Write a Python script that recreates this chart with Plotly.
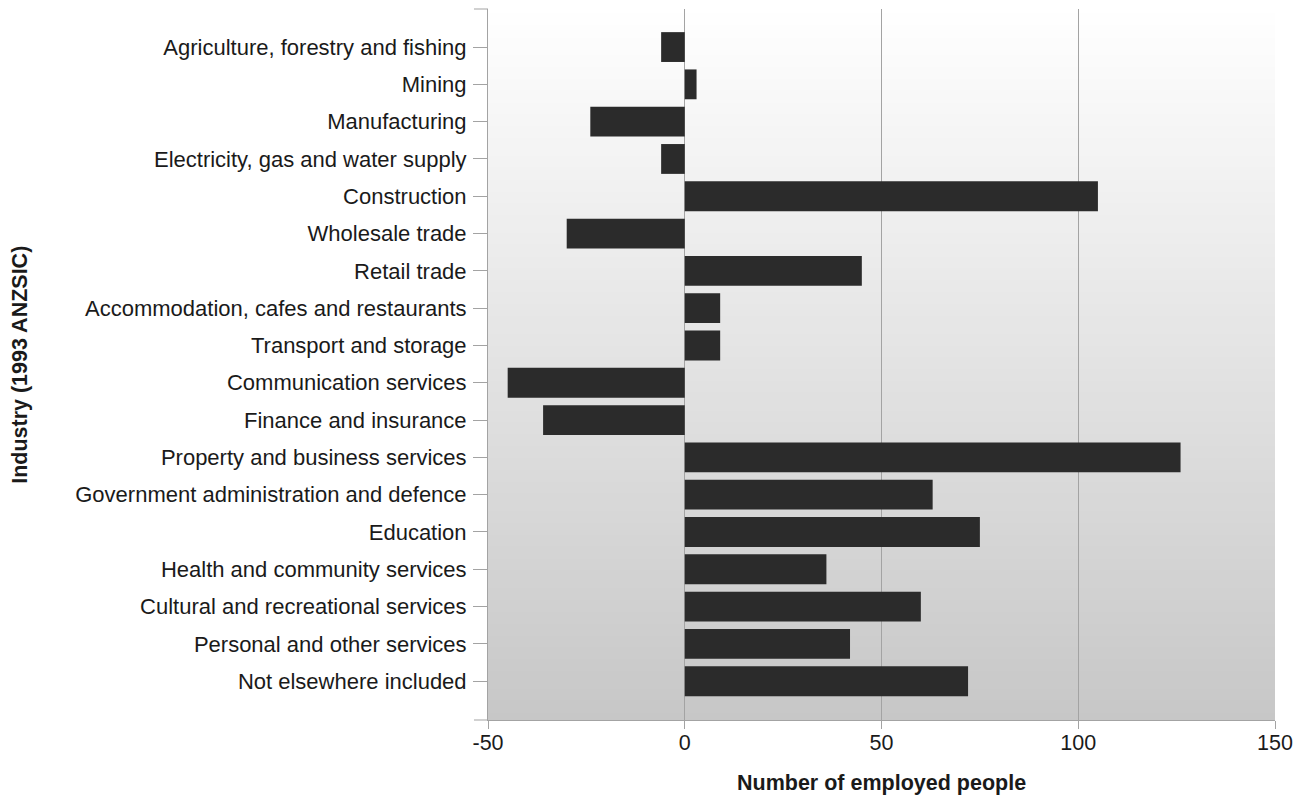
import plotly.graph_objects as go

industries = [
    "Agriculture, forestry and fishing",
    "Mining",
    "Manufacturing",
    "Electricity, gas and water supply",
    "Construction",
    "Wholesale trade",
    "Retail trade",
    "Accommodation, cafes and restaurants",
    "Transport and storage",
    "Communication services",
    "Finance and insurance",
    "Property and business services",
    "Government administration and defence",
    "Education",
    "Health and community services",
    "Cultural and recreational services",
    "Personal and other services",
    "Not elsewhere included",
]
employed_change = [-6, 3, -24, -6, 105, -30, 45, 9, 9, -45, -36, 126, 63, 75, 36, 60, 42, 72]

x_tick_values = [-50, 0, 50, 100, 150]
x_tick_labels = ["-50", "0", "50", "100", "150"]

FONT = "Liberation Sans, Arial, sans-serif"
GRID = "#a3a3a3"
TXT = "#1a1a1a"

fig = go.Figure()
fig.add_trace(go.Bar(
    y=industries,
    x=employed_change,
    orientation="h",
    marker=dict(color="#2b2b2b", line=dict(width=0)),
    showlegend=False,
))

# vertical gradient background (white -> light grey)
shapes = []
n = 120
for i in range(n):
    f = (i + 0.5) / n  # from top
    v = round(255 - (255 - 199) * f)
    shapes.append(dict(
        type="rect", xref="paper", yref="paper",
        x0=0, x1=1, y0=1 - (i + 1) / n, y1=1 - i / n + 0.002,
        fillcolor=f"rgb({v},{v},{v})", line=dict(width=0), layer="below",
    ))
# end ticks at top and bottom of the y axis
for yy in (0, 1):
    shapes.append(dict(
        type="line", xref="paper", yref="paper",
        x0=-14 / 786, x1=0, y0=yy, y1=yy,
        line=dict(color=GRID, width=1), layer="above",
    ))

fig.update_layout(
    width=1300, height=791,
    margin=dict(l=480, r=33, t=1, b=79),
    paper_bgcolor="white",
    plot_bgcolor="white",
    bargap=0.2,
    font=dict(family=FONT, size=22, color=TXT),
    shapes=shapes,
    xaxis=dict(
        range=[-50, 150],
        tickvals=x_tick_values, ticktext=x_tick_labels,
        showgrid=True, gridcolor=GRID, gridwidth=1,
        zeroline=True, zerolinecolor=GRID, zerolinewidth=1,
        showline=True, linecolor=GRID, linewidth=1,
        ticks="outside", ticklen=8, tickcolor=GRID,
        ticklabelstandoff=-5,
        tickfont=dict(size=21.5),
        fixedrange=True,
    ),
    yaxis=dict(
        type="category",
        categoryorder="array", categoryarray=industries,
        range=[18.04, -1.02],
        showgrid=False, zeroline=False,
        showline=True, linecolor=GRID, linewidth=1,
        ticks="outside", ticklen=14, tickcolor=GRID,
        ticklabelstandoff=2,
        tickfont=dict(size=22),
    ),
    annotations=[
        dict(text="<b>Number of employed people</b>", xref="paper", yref="paper",
             x=0.5, y=-0.0886, xanchor="center", yanchor="middle",
             showarrow=False, font=dict(size=21.5, family=FONT, color=TXT)),
        dict(text="<b>Industry (1993 ANZSIC)</b>", xref="paper", yref="paper",
             x=-0.5955, y=0.5, xanchor="center", yanchor="middle", textangle=-90,
             showarrow=False, font=dict(size=21.5, family=FONT, color=TXT)),
    ],
)

fig.write_html("out.html")
